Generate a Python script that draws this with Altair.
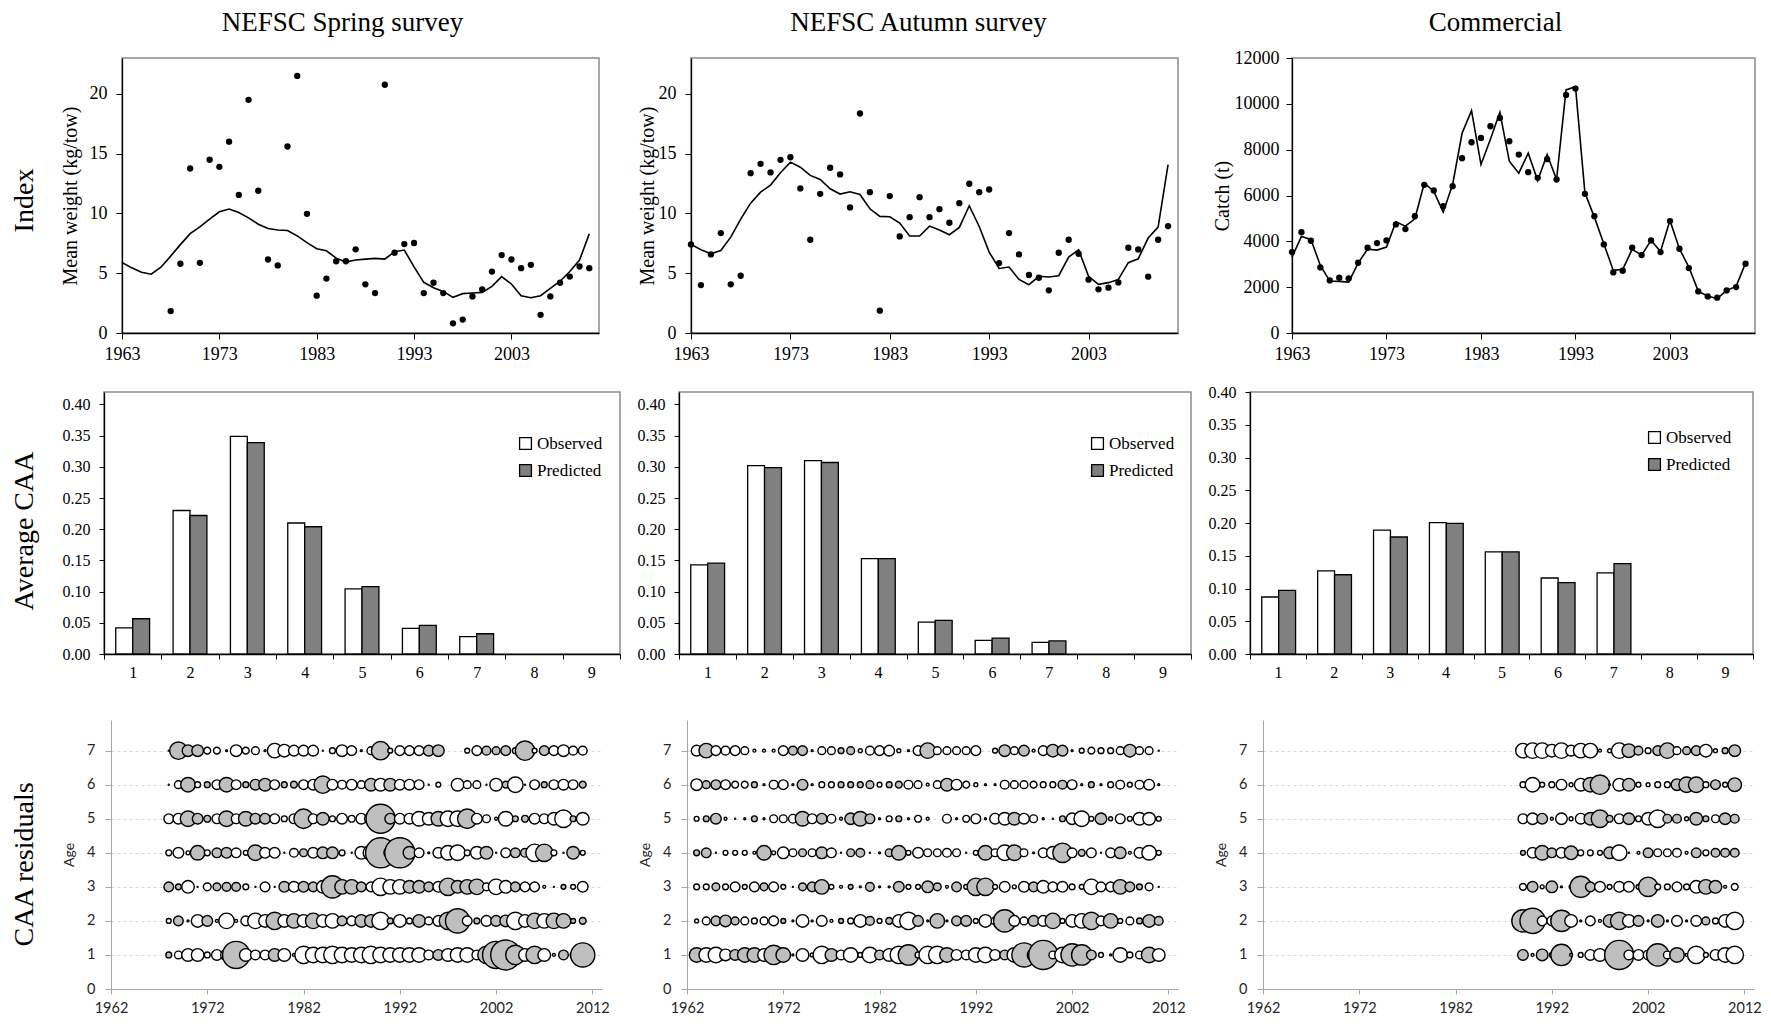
import altair as alt
import pandas as pd

SERIF = "Liberation Serif"
SANS = "Lato"

# ---------------- Row 1: index / catch ----------------
TOP_YEARS = list(range(1963, 2012))
SPRING_OBS_YEARS = list(range(1968, 2012))
spring_obs = [1.83, 5.79, 13.76, 5.87, 14.49, 13.9, 16.0, 11.55, 19.5, 11.9,
              6.15, 5.65, 15.6, 21.5, 9.97, 3.12, 4.55, 6.0, 6.0, 7.0,
              4.07, 3.34, 20.76, 6.71, 7.44, 7.53, 3.34, 4.2, 3.34, 0.81,
              1.12, 3.06, 3.65, 5.14, 6.52, 6.15, 5.42, 5.7, 1.52, 3.06,
              4.2, 4.72, 5.56, 5.42]
spring_pred = [5.9, 5.45, 5.08, 4.92, 5.5, 6.43, 7.39, 8.31, 8.88, 9.52,
               10.14, 10.37, 10.08, 9.63, 9.1, 8.74, 8.62, 8.57, 8.12, 7.56,
               7.05, 6.88, 6.26, 5.93, 6.1, 6.18, 6.24, 6.18, 6.8, 6.94,
               5.53, 4.24, 3.79, 3.48, 2.98, 3.29, 3.34, 3.4, 3.9, 4.72,
               4.1, 3.12, 2.95, 3.12, 3.74, 4.33, 5.14, 6.1, 8.29]
autumn_obs = [7.41, 4.01, 6.57, 8.36, 4.07, 4.79, 13.37, 14.15, 13.43, 14.48,
              14.7, 12.09, 7.8, 11.64, 13.82, 13.26, 10.5, 18.36, 11.78, 1.87,
              11.45, 8.08, 9.69, 11.36, 9.69, 10.36, 9.22, 10.86, 12.48, 11.78,
              12.0, 5.85, 8.36, 6.57, 4.85, 4.62, 3.57, 6.71, 7.8, 6.63,
              4.46, 3.65, 3.79, 4.23, 7.13, 6.99, 4.71, 7.8, 8.94]
autumn_pred = [7.41, 6.96, 6.63, 6.9, 8.02, 9.53, 10.86, 11.78, 12.37, 13.4,
               14.29, 13.87, 13.18, 12.84, 12.06, 11.62, 11.81, 11.59, 10.39, 9.75,
               9.72, 9.19, 8.11, 8.11, 8.94, 8.61, 8.22, 8.83, 10.64, 8.91,
               6.77, 5.4, 5.52, 4.48, 4.04, 4.74, 4.68, 4.79, 6.35, 6.96,
               4.74, 4.07, 4.21, 4.48, 5.88, 6.21, 7.94, 8.86, 14.09]
comm_obs = [3530, 4400, 4024, 2862, 2295, 2412, 2383, 3066, 3720, 3923,
            4040, 4737, 4533, 5100, 6465, 6218, 5535, 6407, 7627, 8325,
            8514, 9022, 9385, 8368, 7787, 7017, 6770, 7584, 6698, 10388,
            10664, 6073, 5100, 3865, 2644, 2717, 3720, 3400, 4040, 3530,
            4882, 3676, 2833, 1816, 1598, 1540, 1860, 2005, 3022]
comm_pred = [3313, 4213, 4082, 2949, 2266, 2252, 2223, 3051, 3661, 3618,
             3748, 4853, 4664, 4983, 6538, 6189, 5274, 6480, 8717, 9705,
             7351, 8456, 9632, 7497, 6974, 7845, 6654, 7787, 6698, 10606,
             10751, 6116, 5056, 3894, 2731, 2775, 3647, 3400, 4040, 3559,
             4911, 3676, 2877, 1816, 1613, 1496, 1860, 2034, 3051]
TOP_XTICKS = [1963, 1973, 1983, 1993, 2003]

# ---------------- Row 2: average CAA ----------------
CAA_AGES = [1, 2, 3, 4, 5, 6, 7, 8, 9]
CAA_DATA_AGES = [1, 2, 3, 4, 5, 6, 7]
SERIES = ["Observed", "Predicted"]
spring_caa_obs = [0.042, 0.230, 0.349, 0.210, 0.1045, 0.041, 0.028]
spring_caa_pred = [0.0565, 0.222, 0.339, 0.204, 0.108, 0.046, 0.0325]
autumn_caa_obs = [0.143, 0.302, 0.310, 0.153, 0.051, 0.022, 0.0187]
autumn_caa_pred = [0.1456, 0.2987, 0.307, 0.153, 0.054, 0.0256, 0.021]
comm_caa_obs = [0.087, 0.127, 0.189, 0.2005, 0.156, 0.116, 0.124]
comm_caa_pred = [0.0972, 0.121, 0.1786, 0.1995, 0.156, 0.109, 0.138]
CAA_YTICKS = [0.0, 0.05, 0.10, 0.15, 0.20, 0.25, 0.30, 0.35, 0.40]

# ---------------- Row 3: CAA residuals (gray = positive, white = negative) ----------------
SPRING_RES_START = 1968
spring_res = {
    7: [-0.1, 1.8, 1.2, 1.2, -0.7, -0.7, -0.2, -1.2, -0.7, -0.8, -0.2, -1.5, -1.3, -1.1, -1.1,
        -1.1, -0.1, -0.6, -1.2, -1.0, -0.2, -0.8, 1.9, -0.5, -1.0, -1.0, -1.0, 1.1, 1.2, 0,
        0, -0.5, -1.0, 0.9, 0.8, 1.0, -0.6, 2.0, -0.5, 1.0, -1.0, -1.2, -0.9, -0.9],
    6: [-0.1, -0.8, 1.5, -0.6, 0.6, -1.0, 1.5, -1.0, 0.6, 1.1, 1.3, -1.0, 0.6, 0.7, -1.0,
        -1.1, 1.8, -1.1, -0.9, -1.1, -0.8, 1.3, -1.3, 1.3, -1.1, -1.1, -1.0, -0.1, -0.5, 0,
        -1.3, -0.8, -0.8, -0.1, -1.3, 0.7, -1.6, -0.1, -1.0, 0.6, -1.0, -1.1, -1.0, 0.7],
    5: [-1.0, -1.1, 1.6, 1.1, 0.7, -1.0, 1.6, -1.0, 1.5, 1.1, 1.1, -1.0, -0.6, -1.0, 2.0,
        -1.0, 1.3, -0.6, -1.1, -0.7, -1.1, -1.3, 3.0, 1.1, -1.1, -1.1, -1.5, -1.3, 1.5, -1.6,
        -1.6, 2.0, -1.1, -0.8, -0.3, -1.5, 0.6, 0.7, -1.1, -1.0, -1.3, -1.8, 0.6, -1.3],
    4: [-0.6, -1.1, -0.4, 1.5, -0.6, 1.0, 1.1, -1.0, -0.5, 1.6, -1.1, -1.1, -0.1, -0.9, 0.8,
        -1.1, 1.2, 1.2, -0.6, -0.1, -1.3, -1.6, 3.1, -1.3, 3.1, 1.3, -1.0, -0.2, -1.1, -1.5,
        -1.6, -0.6, -1.3, 1.3, -0.1, -1.0, 1.0, 0.9, -1.8, 1.8, -0.6, -0.1, 1.3, -0.5],
    3: [1.0, 0.6, -1.3, -0.1, -0.8, 0.8, 0.9, 0.9, -0.6, 0.1, -1.0, -0.1, 1.1, -1.1, 1.1,
        1.0, -1.3, 2.3, 1.5, 1.5, 1.0, -1.0, -1.8, -1.5, -1.5, 1.3, 1.3, 1.0, -1.1, 1.8,
        1.3, 1.5, 1.6, -0.8, -1.6, -1.3, 1.0, -1.0, -1.0, -0.3, -0.1, 0.5, -0.5, -1.1],
    2: [-0.5, 1.0, -0.2, -1.3, 1.1, -0.3, -1.6, -0.3, -1.0, -1.6, -1.3, 1.8, -1.3, 1.5, -1.3,
        1.6, -1.3, -1.5, 1.0, -1.0, 1.3, 1.3, -1.8, 0.6, -1.3, -0.6, 1.3, -0.8, -1.1, 1.8,
        2.5, -1.0, 0.6, -1.1, 1.1, 1.2, -1.8, -1.3, 1.6, -1.5, 1.6, 1.5, 0.5, 0.7],
    1: [0.6, -0.8, -1.3, -1.3, -0.6, -1.1, -1.2, 2.8, -1.3, -1.0, -1.0, 1.3, -1.3, -0.3, -1.8,
        -1.6, -1.6, -1.8, -1.6, -1.5, -1.6, -1.8, -1.6, -1.5, -1.5, -1.5, -1.5, -1.0, 1.1, -1.3,
        -1.5, -1.5, -1.0, 1.8, 2.8, 3.1, 2.0, -1.3, 1.8, -1.3, -0.3, 1.0, -0.6, 2.5],
}
AUTUMN_RES_START = 1963
autumn_res = {
    7: [-1.1, 1.5, -1.0, -0.9, -1.0, -0.8, -0.3, -0.3, -0.3, -1.0, 0.9, 1.0, -0.2, -0.8, -0.8,
        0.6, 0.8, -0.4, -0.9, -1.0, -1.1, -0.4, -0.2, -1.0, 1.6, -0.8, -0.8, -0.8, -0.8, -1.0,
        0, -0.5, 1.2, -0.8, 1.1, -0.3, -1.0, 1.3, 1.1, -0.2, -0.5, -0.7, -0.6, -0.6, -0.8,
        1.3, -0.8, -0.8, -0.1],
    6: [-1.2, 0.8, 1.0, -1.0, -0.7, -0.7, 0.6, -0.2, -0.9, -1.0, -0.2, 1.1, -0.2, -0.6, -0.6,
        0.6, 0.6, 0.6, 0.8, -0.5, 0.6, 0.7, -0.9, -0.8, -0.3, -0.8, 1.3, -1.1, -0.7, -0.4,
        -0.2, -0.2, -0.9, -0.8, -0.8, -0.7, -0.6, -0.6, 0.9, -1.0, -0.2, 0.6, -0.2, -0.6, -0.9,
        -0.5, -0.9, -1.1, -0.2],
    5: [-0.5, 0.6, 1.1, -0.3, -0.1, -0.2, 0.6, -0.2, -0.8, -0.8, -0.9, 1.5, -1.0, 1.1, -0.9,
        -0.3, 1.2, 1.5, 1.0, -0.2, -0.6, 0.6, -0.2, -0.7, -0.3, 0, -0.9, -0.2, -0.7, -1.0,
        -0.2, -1.1, -1.3, 1.3, -1.1, -0.8, -0.2, -0.1, 0.6, -1.2, -1.6, -0.5, 1.2, -0.4, -1.0,
        -0.5, -1.3, -1.3, -0.5],
    4: [0.6, 1.0, -0.1, -0.5, -0.5, -0.5, -0.3, 1.5, -0.4, -1.2, -0.8, 0.8, -0.8, 1.2, -1.0,
        -0.1, 0.8, 0.9, -0.1, -0.2, 0.8, 1.5, -0.5, -1.1, -0.8, -0.8, -0.9, -0.8, -0.1, -0.5,
        1.5, -0.8, -1.6, 1.6, -0.8, -0.2, -1.0, -1.3, 2.0, -1.0, 0.7, -1.0, -0.1, -1.0, 1.2,
        -0.3, -1.1, -1.5, -0.5],
    3: [-0.6, -0.6, 0.8, -0.6, -1.0, -0.5, -1.0, 0.8, -1.0, -0.5, -0.1, 0.8, 1.0, 1.5, -0.5,
        -0.3, 0.5, -0.2, 0.9, -0.2, -0.2, 1.1, -0.5, -0.5, 1.2, 0.8, -0.3, 1.0, -0.5, 1.8,
        1.8, -0.5, -1.1, -0.4, -1.1, 1.0, -1.3, -1.0, -1.1, -0.6, -0.5, -1.6, -1.0, -1.0, 1.5,
        1.0, 0.6, -0.8, -0.1],
    2: [-0.4, -0.8, 1.0, 1.2, 0.8, -0.8, -0.6, -0.8, -1.0, 0.5, -0.2, -1.3, -0.2, -1.1, -0.3,
        0.5, -0.6, -1.3, 0.9, -0.5, 0.7, -1.3, -1.8, 1.1, -0.2, 1.5, -0.2, 1.0, 1.1, -0.5,
        -1.3, -0.8, 2.3, -1.1, -0.8, 1.1, -1.1, 1.6, -0.5, -1.3, -1.5, 1.8, -1.0, 1.5, -0.5,
        -0.8, 0.6, 1.3, 0.9],
    1: [1.5, -1.5, -1.6, -1.2, 1.1, 1.5, 1.5, -1.3, 2.0, 1.5, -0.2, -1.3, -0.4, -1.8, 1.3,
        -1.0, -1.5, -0.5, -1.6, 1.0, -1.3, -1.8, 2.1, -0.6, -1.8, -1.8, 1.5, -1.1, -1.0, -1.5,
        -1.6, -1.1, 1.0, -1.5, 2.5, -1.3, 3.0, -0.8, -1.6, 2.3, 2.1, 1.0, -0.5, -0.2, -1.5,
        -0.6, -0.8, 1.6, -1.3],
}
COMM_RES_START = 1989
comm_res = {
    7: [-1.5, -1.6, -1.6, -1.3, -1.6, -1.1, -1.5, -1.5, -0.3, -0.4, -1.6, 1.4, 0.9, -0.6, 1.0,
        1.6, -0.8, 0.8, 1.0, -1.3, -0.4, 0.6, 1.2],
    6: [-0.6, -1.5, -0.5, -0.6, -1.1, -0.4, -1.3, 1.5, 2.0, -0.2, -1.3, 1.3, -0.5, -0.4, -0.6,
        -0.6, 1.2, 1.6, 1.6, -0.6, 1.0, -0.5, 1.4],
    5: [-1.0, -1.2, 1.1, -0.3, -1.2, -0.4, -1.1, 1.3, 1.8, 0.7, -1.0, 1.2, -0.6, -1.3, -1.8,
        0.9, 0.9, -0.4, 1.3, 0.6, -0.8, 1.2, 0.9],
    4: [0.5, -1.1, 1.5, 1.0, -1.1, 1.4, -0.6, -0.6, -0.5, 1.2, -1.6, -0.1, -0.3, 1.0, -0.8,
        -0.8, -0.9, -0.3, 1.0, -0.6, 0.9, 0.9, 0.9],
    3: [-0.7, 1.1, -0.4, 1.2, -0.2, -0.4, 2.2, 1.0, -1.1, -0.5, -1.1, -1.1, -0.5, 2.0, -0.6,
        -0.6, -1.0, -0.6, -1.3, 1.5, 1.3, -0.3, -0.7],
    2: [2.3, 2.6, -1.0, -1.0, 2.2, -1.3, -0.2, -1.0, -0.3, 1.3, 1.8, -1.3, 1.1, -0.2, 1.3,
        -0.2, -1.1, -0.2, -1.1, 0.8, -0.6, -1.3, -1.8],
    1: [1.1, -0.3, 1.2, -0.5, 2.2, -0.3, -0.5, -1.1, -1.3, -1.0, 3.0, -1.0, -1.1, -1.0, 2.3,
        -0.8, 1.5, -0.3, -1.8, -0.5, -1.1, -1.5, -1.8],
}
RES_XTICKS = [1962, 1972, 1982, 1992, 2002, 2012]
RES_YTICKS = [0, 1, 2, 3, 4, 5, 6, 7]

FRAME = alt.ViewBackground(stroke="#8c8c8c", strokeWidth=1.5)


def gap(w, h):
    return alt.Chart(pd.DataFrame({"v": [0]})).mark_point(opacity=0, size=0).encode(
        x=alt.value(0), y=alt.value(0)
    ).properties(width=w, height=h)


def row_label(text, w, h, dy):
    return alt.Chart(pd.DataFrame({"t": [text]})).mark_text(
        angle=270, font=SERIF, fontSize=28, color="black", align="center", baseline="middle"
    ).encode(text="t:N", x=alt.value(17), y=alt.value(h / 2 + dy)).properties(width=w, height=h)


def index_chart(obs_years, obs, pred, ydom, yvals, ytitle, lpad, tpad, title, dx, toff, w, h):
    dfo = pd.DataFrame({"year": obs_years, "value": obs})
    dfp = pd.DataFrame({"year": TOP_YEARS, "value": pred})
    xs = alt.Scale(domain=[1963, 2012], nice=False, zero=False)
    ys = alt.Scale(domain=ydom, nice=False)
    xax = alt.Axis(values=TOP_XTICKS, format="d", title=None, labelFlush=False, grid=False,
                   labelFont=SERIF, labelFontSize=18, labelColor="black", tickSize=6,
                   tickColor="black", domainColor="black", domainWidth=1.3, labelPadding=6)
    yax = alt.Axis(values=yvals, format="d", title=ytitle, grid=False, labelFont=SERIF,
                   labelFontSize=18, labelColor="black", tickSize=6, tickColor="black",
                   domainColor="black", domainWidth=1.3, labelPadding=lpad, titleFont=SERIF,
                   titleFontSize=20, titleFontWeight="normal", titleColor="black",
                   titlePadding=tpad)
    line = alt.Chart(dfp).mark_line(color="black", strokeWidth=1.6).encode(
        x=alt.X("year:Q", scale=xs, axis=xax),
        y=alt.Y("value:Q", scale=ys, axis=yax),
    )
    pts = alt.Chart(dfo).mark_circle(color="black", size=40, opacity=1).encode(
        x=alt.X("year:Q", scale=xs), y=alt.Y("value:Q", scale=ys)
    )
    return alt.layer(line, pts).properties(
        width=w, height=h, view=FRAME,
        title=alt.TitleParams(title, font=SERIF, fontSize=27, fontWeight="normal",
                              color="black", anchor="middle", frame="group", dx=dx, offset=toff),
    )


def caa_chart(obs, pred, ymax, lx, ly, w, h):
    df = pd.DataFrame({
        "age": CAA_DATA_AGES + CAA_DATA_AGES,
        "series": [SERIES[0]] * len(obs) + [SERIES[1]] * len(pred),
        "value": obs + pred,
    })
    return alt.Chart(df).mark_bar(stroke="black", strokeWidth=1.3).encode(
        x=alt.X("age:O", scale=alt.Scale(domain=CAA_AGES, paddingInner=0, paddingOuter=0),
                axis=alt.Axis(title=None, labelAngle=0, tickBand="extent", labelFont=SERIF,
                              labelFontSize=16, labelColor="black", tickSize=5,
                              tickColor="black", domainColor="black", domainWidth=1.3,
                              labelPadding=5)),
        xOffset=alt.XOffset("series:N", scale=alt.Scale(domain=SERIES, paddingInner=0,
                                                        paddingOuter=0.695)),
        y=alt.Y("value:Q", scale=alt.Scale(domain=[0, ymax], nice=False),
                axis=alt.Axis(values=CAA_YTICKS, format=".2f", title=None, grid=False,
                              labelFont=SERIF, labelFontSize=16, labelColor="black",
                              tickSize=5, tickColor="black", domainColor="black",
                              domainWidth=1.3, labelPadding=9)),
        color=alt.Color("series:N", scale=alt.Scale(domain=SERIES, range=["white", "#808080"]),
                        legend=alt.Legend(title=None, orient="none", legendX=lx, legendY=ly,
                                          symbolType="square", symbolSize=140,
                                          symbolStrokeColor="black", symbolStrokeWidth=1.3,
                                          labelFont=SERIF, labelFontSize=17,
                                          labelColor="black", rowPadding=8, labelOffset=3)),
    ).properties(width=w, height=h, view=FRAME)


def resid_chart(start, res, w, h):
    rows = []
    for age, vals in res.items():
        for i, v in enumerate(vals):
            rows.append({"year": start + i, "age": age, "res": v})
    df = pd.DataFrame(rows)
    return alt.Chart(df).transform_filter("datum.res != 0").transform_calculate(
        mag="abs(datum.res)", sgn="datum.res > 0 ? 'pos' : 'neg'"
    ).mark_circle(stroke="black", strokeWidth=1.4, opacity=1).encode(
        x=alt.X("year:Q", scale=alt.Scale(domain=[1962, 2013], nice=False, zero=False),
                axis=alt.Axis(values=RES_XTICKS, format="d", title=None, labelFlush=False,
                              grid=False, labelFont=SANS, labelFontSize=14.5,
                              labelColor="#262626", tickSize=5, tickColor="#a6a6a6",
                              domainColor="#a6a6a6", labelPadding=7)),
        y=alt.Y("age:Q", scale=alt.Scale(domain=[0, 7.9], nice=False),
                axis=alt.Axis(values=RES_YTICKS, format="d", title="Age", grid=True,
                              gridColor="#d9d9d9", gridDash=[3, 3], labelFont=SANS,
                              labelFontSize=14.5, labelColor="#262626", tickSize=6,
                              tickColor="#a6a6a6", domainColor="#a6a6a6", labelPadding=10,
                              titleFont=SANS, titleFontSize=14, titleFontWeight="normal",
                              titleColor="#262626", titlePadding=10)),
        size=alt.Size("mag:Q", scale=alt.Scale(type="pow", exponent=2, domain=[0, 3.2],
                                               range=[0, 960]), legend=None),
        fill=alt.Fill("sgn:N", scale=alt.Scale(domain=["pos", "neg"],
                                               range=["#bfbfbf", "white"]), legend=None),
    ).properties(width=w, height=h)


H1, H2, H3 = 275, 262, 269

row1 = alt.hconcat(
    row_label("Index", 114, H1, 5),
    index_chart(SPRING_OBS_YEARS, spring_obs, spring_pred, [0, 23], [0, 5, 10, 15, 20],
                "Mean weight (kg/tow)", 9, 9, "NEFSC Spring survey", -18, 21, 477, H1),
    gap(92, H1),
    index_chart(TOP_YEARS, autumn_obs, autumn_pred, [0, 23], [0, 5, 10, 15, 20],
                "Mean weight (kg/tow)", 9, 1, "NEFSC Autumn survey", -16, 21, 487, H1),
    gap(114, H1),
    index_chart(TOP_YEARS, comm_obs, comm_pred, [0, 12000],
                [0, 2000, 4000, 6000, 8000, 10000, 12000],
                "Catch (t)", 7, 2, "Commercial", -28, 12, 463, H1),
    spacing=0, bounds="flush",
)

row2 = alt.hconcat(
    row_label("Average CAA", 96, H2, 8),
    caa_chart(spring_caa_obs, spring_caa_pred, 0.42, 413, 43, 516, H2),
    gap(59, H2),
    caa_chart(autumn_caa_obs, autumn_caa_pred, 0.42, 410, 43, 512, H2),
    gap(59, H2),
    caa_chart(comm_caa_obs, comm_caa_pred, 0.40, 396, 37, 503, H2),
    spacing=0, bounds="flush",
).resolve_scale(color="independent")

row3 = alt.hconcat(
    row_label("CAA residuals", 103, H3, 10),
    resid_chart(SPRING_RES_START, spring_res, 491, H3),
    gap(85, H3),
    resid_chart(AUTUMN_RES_START, autumn_res, 491, H3),
    gap(85, H3),
    resid_chart(COMM_RES_START, comm_res, 491, H3),
    spacing=0, bounds="flush",
)

chart = alt.vconcat(
    row1, row2, gap(1, 1), row3, spacing=19
).properties(padding=0, background="white").configure_view(stroke=None)

chart.save("out.html", embed_options={"renderer": "svg", "actions": False})
